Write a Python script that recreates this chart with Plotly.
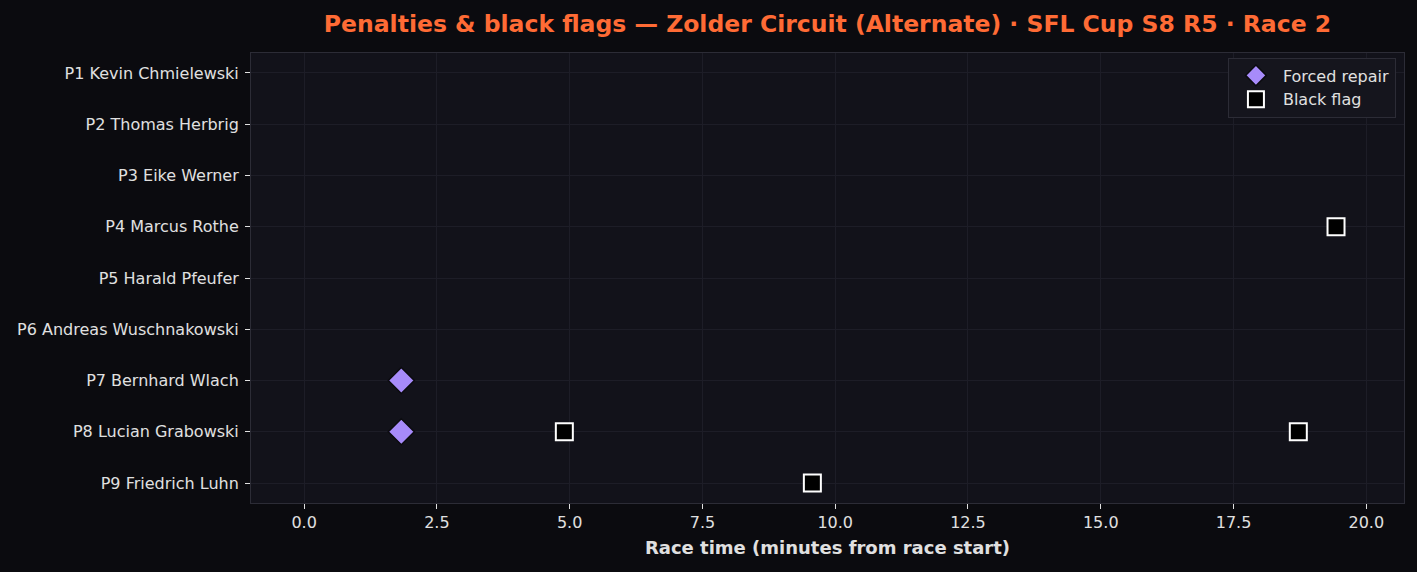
import plotly.graph_objects as go

drivers = [
    "P1 Kevin Chmielewski",
    "P2 Thomas Herbrig",
    "P3 Eike Werner",
    "P4 Marcus Rothe",
    "P5 Harald Pfeufer",
    "P6 Andreas Wuschnakowski",
    "P7 Bernhard Wlach",
    "P8 Lucian Grabowski",
    "P9 Friedrich Luhn",
]

repair_driver = ["P7 Bernhard Wlach", "P8 Lucian Grabowski"]
repair_time = [1.83, 1.83]

flag_driver = ["P4 Marcus Rothe", "P8 Lucian Grabowski", "P8 Lucian Grabowski", "P9 Friedrich Luhn"]
flag_time = [19.43, 4.90, 18.72, 9.57]

x_ticks = [0.0, 2.5, 5.0, 7.5, 10.0, 12.5, 15.0, 17.5, 20.0]

FONT = "DejaVu Sans"
BG = "#0b0b0f"
PLOT_BG = "#12121a"
GRID = "#1d1d27"
SPINE = "#2c2c36"
TXT = "#e0e0e0"

pos = {d: i for i, d in enumerate(drivers)}

fig = go.Figure()
fig.add_trace(go.Scatter(
    x=repair_time, y=[pos[d] for d in repair_driver],
    mode="markers", name="Forced repair",
    marker=dict(symbol="diamond", size=20, color="#a78bfa",
                line=dict(color="#0b0b0f", width=1.5)),
))
fig.add_trace(go.Scatter(
    x=flag_time, y=[pos[d] for d in flag_driver],
    mode="markers", name="Black flag",
    marker=dict(symbol="square", size=17, color="#000000",
                line=dict(color="#ffffff", width=2)),
))

fig.update_layout(
    width=1417, height=572,
    margin=dict(l=251, r=13, t=53, b=69),
    paper_bgcolor=BG, plot_bgcolor=PLOT_BG,
    font=dict(family=FONT, size=16, color=TXT),
    title=dict(
        text="<b>Penalties & black flags — Zolder Circuit (Alternate) · SFL Cup S8 R5 · Race 2</b>",
        font=dict(family=FONT, size=23.5, color="#ff6b35"),
        x=0.5, xref="paper", xanchor="center", y=0.958, yanchor="middle",
    ),
    xaxis=dict(
        range=[-1.0, 20.71], tickvals=x_ticks,
        ticktext=[f"{v:.1f}" for v in x_ticks],
        showgrid=True, gridcolor=GRID, gridwidth=1, zeroline=False,
        ticks="outside", ticklen=5, tickcolor=TXT, tickwidth=1,
        tickfont=dict(size=16, color=TXT),
        showline=True, linecolor=SPINE, mirror=True,
        title=dict(text="<b>Race time (minutes from race start)</b>",
                   font=dict(size=18, color=TXT), standoff=10),
    ),
    yaxis=dict(
        range=[8.39, -0.39], tickvals=list(range(len(drivers))), ticktext=drivers,
        showgrid=True, gridcolor=GRID, gridwidth=1, zeroline=False,
        ticks="outside", ticklen=5, tickcolor=TXT, tickwidth=1,
        tickfont=dict(size=16, color=TXT), ticklabelstandoff=3,
        showline=True, linecolor=SPINE, mirror=True,
    ),
    legend=dict(
        x=0.993, y=0.99, xanchor="right", yanchor="top",
        bgcolor="#15151d", bordercolor=SPINE, borderwidth=1,
        font=dict(size=16, color=TXT), itemsizing="trace",
        itemwidth=44, tracegroupgap=0,
    ),
    showlegend=True,
)

fig.write_html("out.html", config={"displayModeBar": False},
               post_script="document.body.style.margin='0';")
